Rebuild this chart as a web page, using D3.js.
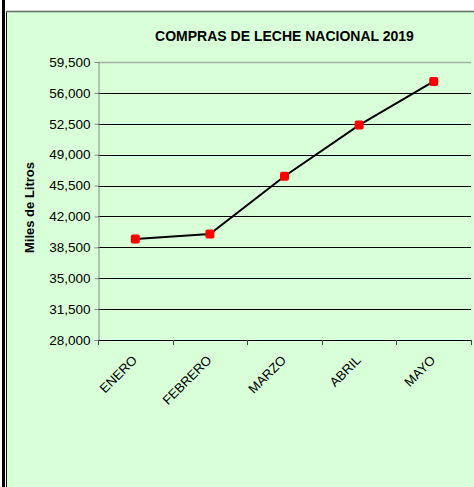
<!DOCTYPE html>
<html><head><meta charset="utf-8">
<script src="https://cdn.jsdelivr.net/npm/d3@7"></script>
<style>html,body{margin:0;padding:0;background:#fff;}svg{display:block;}</style>
</head><body>
<script>
const months = ["ENERO","FEBRERO","MARZO","ABRIL","MAYO"];
const values = [39450, 40000, 46550, 52350, 57300];
const yTicks = [28000,31500,35000,38500,42000,45500,49000,52500,56000,59500];
const title = "COMPRAS DE LECHE NACIONAL 2019";
const yLabel = "Miles de Litros";

(function(){
const W = 474, H = 487;
const svg = d3.select("body").append("svg").attr("width", W).attr("height", H);
const font = "Arial, 'Liberation Sans', sans-serif";

// frame
svg.append("rect").attr("x",0).attr("y",0).attr("width",W).attr("height",H).attr("fill","#fff");
svg.append("rect").attr("x",7).attr("y",12).attr("width",W-7).attr("height",H-12).attr("fill","#d9ffd9");
svg.append("rect").attr("x",2).attr("y",0).attr("width",3).attr("height",H).attr("fill","#000");
svg.append("line").attr("x1",6.5).attr("x2",6.5).attr("y1",11).attr("y2",H).attr("stroke","#111").attr("stroke-width",1);
svg.append("line").attr("x1",6).attr("x2",W).attr("y1",11.5).attr("y2",11.5).attr("stroke","#5f6f5f").attr("stroke-width",1.5);

const pL = 98, pR = 471, pT = 62, pB = 340;
const x = d3.scaleBand().domain(months).range([pL, pR]);
const y = d3.scaleLinear().domain([28000, 59500]).range([pB, pT]);

// gridlines
svg.append("g").selectAll("line").data(yTicks).join("line")
  .attr("x1", pL).attr("x2", pR)
  .attr("y1", d => Math.round(y(d)) + 0.5).attr("y2", d => Math.round(y(d)) + 0.5)
  .attr("stroke", d => d === 59500 ? "#a8b0a8" : "#000").attr("stroke-width", d => d===59500?1.5:1);

// y axis
const ya = svg.append("g").attr("transform", `translate(${pL+0.5},0)`)
  .call(d3.axisLeft(y).tickValues(yTicks).tickFormat(d3.format(",")).tickSize(4).tickPadding(4));
ya.select(".domain").attr("stroke","#888");
ya.selectAll(".tick line").attr("stroke","#888");
ya.selectAll(".tick text").attr("font-family", font).attr("font-size", 13.5).attr("fill","#000");

// x axis ticks
svg.append("g").selectAll("line").data(months.concat(["_end"])).join("line")
  .attr("x1", (d,i) => Math.round(pL + i*x.bandwidth()) + 0.5)
  .attr("x2", (d,i) => Math.round(pL + i*x.bandwidth()) + 0.5)
  .attr("y1", pB).attr("y2", pB + 5).attr("stroke", "#444");
svg.append("g").selectAll("text").data(months).join("text")
  .attr("transform", d => `translate(${x(d)+x.bandwidth()/2+2.5},${pB+21}) rotate(-45)`)
  .attr("text-anchor","end").attr("font-family", font).attr("font-size", 13).attr("fill","#000")
  .text(d => d);

// line
const line = d3.line().x((d,i) => x(months[i]) + x.bandwidth()/2).y(d => y(d));
svg.append("path").datum(values).attr("d", line).attr("fill","none").attr("stroke","#000").attr("stroke-width",2);
svg.append("g").selectAll("rect").data(values).join("rect")
  .attr("x", (d,i) => x(months[i]) + x.bandwidth()/2 - 4.5)
  .attr("y", d => y(d) - 4.5)
  .attr("width", 9).attr("height", 9).attr("rx", 2)
  .attr("fill", "#ff0000");

// title
svg.append("text").attr("x", 284.5).attr("y", 41).attr("text-anchor","middle")
  .attr("font-family", font).attr("font-size", 14).attr("font-weight","bold").text(title);
svg.append("text").attr("transform", `translate(34,207.5) rotate(-90)`)
  .attr("text-anchor","middle").attr("font-family", font).attr("font-size", 13).attr("font-weight","bold").text(yLabel);
})();
</script>
</body></html>
